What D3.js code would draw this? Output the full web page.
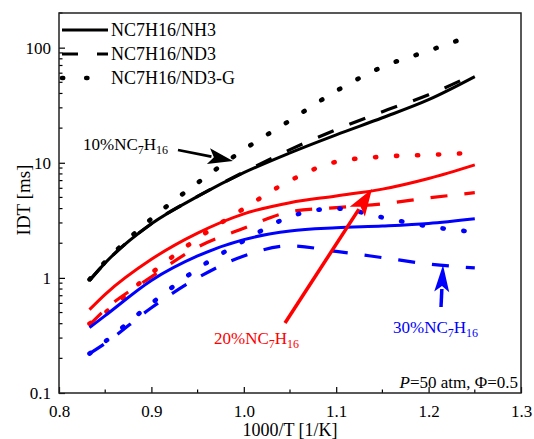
<!DOCTYPE html>
<html>
<head>
<meta charset="utf-8">
<script src="https://cdn.jsdelivr.net/npm/d3@7"></script>
<style>
  body { margin: 0; background: #fff; }
  svg { font-family: "Liberation Serif", "Times New Roman", serif; }
</style>
</head>
<body>
<script>
// 1000/T values where the IDT curves were read
const invT = [0.833, 0.85, 0.9, 0.95, 1.0, 1.05, 1.1, 1.15, 1.2, 1.25];

// 10% NC7H16 (black)
const nh3_10 = [0.95, 1.35, 2.95, 5.1, 8.2, 12.2, 17.5, 24.6, 35.3, 56];
const nd3_10 = [0.95, 1.35, 2.95, 5.1, 8.3, 13.0, 19.4, 27.8, 39, 59];
const nd3g_10 = [0.97, 1.38, 3.26, 6.7, 13, 23.3, 42, 68, 94, 130];
// 20% NC7H16 (red)
const nh3_20 = [0.53, 0.72, 1.45, 2.45, 3.6, 4.5, 5.15, 5.9, 7.3, 9.6];
const nd3_20 = [0.39, 0.53, 1.02, 1.85, 2.7, 3.75, 4.08, 4.4, 4.95, 5.5];
const nd3g_20 = [0.40, 0.5, 1.1, 2.2, 4.0, 7.0, 10.2, 11.3, 11.7, 12.2];
// 30% NC7H16 (blue)
const nh3_30 = [0.37, 0.47, 0.95, 1.55, 2.15, 2.55, 2.72, 2.82, 2.97, 3.26];
const nd3_30 = [0.22, 0.27, 0.55, 1.0, 1.55, 1.9, 1.7, 1.5, 1.32, 1.22];
const nd3g_30 = [0.22, 0.28, 0.6, 1.2, 2.1, 3.4, 4.0, 3.35, 2.8, 2.5];

const legendNames = ["NC7H16/NH3", "NC7H16/ND3", "NC7H16/ND3-G"];
const xTicks = [0.8, 0.9, 1.0, 1.1, 1.2, 1.3];
const yTicks = [0.1, 1, 10, 100];

const W = 534, H = 439;
const margin = { top: 13, right: 13, bottom: 46, left: 59 };

const svg = d3.select("body").append("svg")
  .attr("width", W).attr("height", H);

const x = d3.scaleLinear().domain([0.8, 1.3]).range([margin.left, W - margin.right]);
const y = d3.scaleLog().domain([0.1, 200]).range([H - margin.bottom, margin.top]);

const styles = {
  solid: { dash: null, cap: "butt", width: 3 },
  dash: { dash: "17,17", cap: "butt", width: 3.2 },
  dot: { dash: "1.2,19.8", cap: "round", width: 4.6 }
};

const series = [
  { v: nh3_10, color: "#000", s: "solid" },
  { v: nd3_10, color: "#000", s: "dash" },
  { v: nd3g_10, color: "#000", s: "dot" },
  { v: nh3_20, color: "#ff0000", s: "solid" },
  { v: nd3_20, color: "#ff0000", s: "dash" },
  { v: nd3g_20, color: "#ff0000", s: "dot" },
  { v: nh3_30, color: "#0000ff", s: "solid" },
  { v: nd3_30, color: "#0000ff", s: "dash" },
  { v: nd3g_30, color: "#0000ff", s: "dot" }
];

const line = d3.line()
  .x((d, i) => x(invT[i]))
  .y(d => y(d))
  .curve(d3.curveMonotoneX);

svg.append("g")
  .selectAll("path")
  .data(series)
  .join("path")
  .attr("d", d => line(d.v))
  .attr("fill", "none")
  .attr("stroke", d => d.color)
  .attr("stroke-width", d => styles[d.s].width)
  .attr("stroke-dasharray", d => styles[d.s].dash)
  .attr("stroke-linecap", d => styles[d.s].cap);

// axes, ticks pointing inward
const xAxis = d3.axisBottom(x).tickValues(xTicks).tickFormat(d3.format(".1f")).tickSizeInner(-6).tickSizeOuter(0);
const gx = svg.append("g").attr("transform", `translate(0,${H - margin.bottom})`).call(xAxis);
gx.select(".domain").remove();
gx.selectAll(".tick line").attr("stroke-width", 1.2);
gx.selectAll("text").attr("font-size", 17).attr("fill", "#000").attr("dy", 0).attr("y", 24)
  .attr("font-family", "Liberation Serif");
// minor x ticks
svg.append("g").selectAll("line")
  .data([0.85, 0.95, 1.05, 1.15, 1.25])
  .join("line")
  .attr("x1", d => x(d)).attr("x2", d => x(d))
  .attr("y1", H - margin.bottom).attr("y2", H - margin.bottom - 3.5)
  .attr("stroke", "#000").attr("stroke-width", 1.2);

const yAxis = d3.axisLeft(y).tickValues(yTicks).tickFormat(d => d < 1 ? "0.1" : d3.format("d")(d)).tickSizeInner(-6).tickSizeOuter(0);
const gy = svg.append("g").attr("transform", `translate(${margin.left},0)`).call(yAxis);
gy.select(".domain").remove();
gy.selectAll(".tick line").attr("stroke-width", 1.2);
gy.selectAll("text").attr("font-size", 17).attr("fill", "#000").attr("x", -8).attr("dy", "0.35em")
  .attr("font-family", "Liberation Serif");
const minorY = [];
[0.1, 1, 10, 100].forEach(dec => { for (let k = 2; k <= 9; k++) if (dec * k <= 200) minorY.push(dec * k); });
svg.append("g").selectAll("line")
  .data(minorY)
  .join("line")
  .attr("x1", margin.left).attr("x2", margin.left + 3.5)
  .attr("y1", d => y(d)).attr("y2", d => y(d))
  .attr("stroke", "#000").attr("stroke-width", 1.2);

// frame
svg.append("rect")
  .attr("x", margin.left).attr("y", margin.top)
  .attr("width", W - margin.left - margin.right)
  .attr("height", H - margin.top - margin.bottom)
  .attr("fill", "none").attr("stroke", "#222").attr("stroke-width", 1.5);

// axis titles
svg.append("text")
  .attr("x", (margin.left + W - margin.right) / 2).attr("y", 436)
  .attr("text-anchor", "middle").attr("font-size", 18)
  .text("1000/T [1/K]");
svg.append("text")
  .attr("transform", `translate(30,200) rotate(-90)`)
  .attr("text-anchor", "middle").attr("font-size", 19)
  .text("IDT [ms]");

// legend
const leg = svg.append("g");
["solid", "dash", "dot"].forEach((s, i) => {
  const yy = 30 + i * 24;
  leg.append("line")
    .attr("x1", 62).attr("x2", 108).attr("y1", yy).attr("y2", yy)
    .attr("stroke", "#000")
    .attr("stroke-width", styles[s].width)
    .attr("stroke-dasharray", s === "dash" ? "16,19" : (s === "dot" ? "1.2,23" : null))
    .attr("stroke-linecap", styles[s].cap);
  leg.append("text")
    .attr("x", 111).attr("y", yy + 6)
    .attr("font-size", 18)
    .text(legendNames[i]);
});

// labels with subscripts
function chemLabel(xp, yp, pct, color) {
  const t = svg.append("text").attr("x", xp).attr("y", yp).attr("font-size", 17).attr("fill", color);
  t.append("tspan").text(pct + "%NC");
  t.append("tspan").attr("font-size", 12).attr("dy", 4).text("7");
  t.append("tspan").attr("dy", -4).text("H");
  t.append("tspan").attr("font-size", 12).attr("dy", 4).text("16");
}
chemLabel(83, 150, 10, "#000");
chemLabel(214, 344, 20, "#ff0000");
chemLabel(393, 333, 30, "#0000ff");

function arrow(x1, y1, x2, y2, color, w, hl, hw) {
  const ang = Math.atan2(y2 - y1, x2 - x1);
  const bx = x2 - hl * Math.cos(ang), by = y2 - hl * Math.sin(ang);
  svg.append("line")
    .attr("x1", x1).attr("y1", y1).attr("x2", bx + 3 * Math.cos(ang)).attr("y2", by + 3 * Math.sin(ang))
    .attr("stroke", color).attr("stroke-width", w);
  const px = -Math.sin(ang) * hw / 2, py = Math.cos(ang) * hw / 2;
  const nx = x2 - hl * 0.78 * Math.cos(ang), ny = y2 - hl * 0.78 * Math.sin(ang);
  svg.append("path")
    .attr("d", `M${x2},${y2}L${bx + px},${by + py}L${nx},${ny}L${bx - px},${by - py}Z`)
    .attr("fill", color);
}
arrow(178, 150, 233, 161, "#000", 2.8, 25, 16);
arrow(285, 323, 372, 189, "#ff0000", 3.5, 27, 18);
arrow(441, 307, 443, 265, "#0000ff", 3.5, 27, 15);

// condition note
const note = svg.append("text").attr("x", 518).attr("y", 388).attr("text-anchor", "end").attr("font-size", 17);
note.append("tspan").attr("font-style", "italic").text("P");
note.append("tspan").text("=50 atm, \u03A6=0.5");
</script>
</body>
</html>
